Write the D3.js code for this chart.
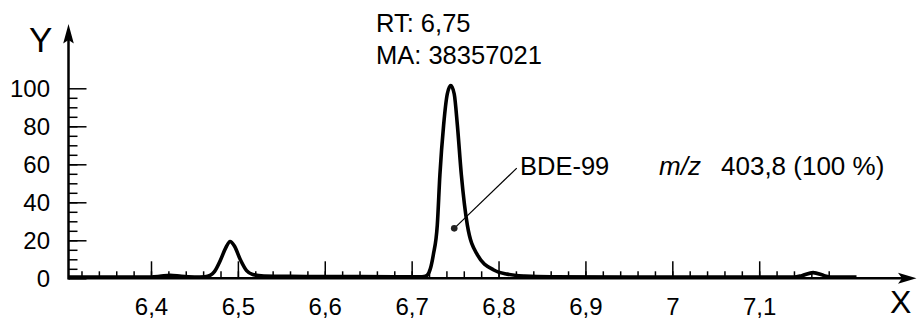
<!DOCTYPE html>
<html>
<head>
<meta charset="utf-8">
<script src="https://cdn.jsdelivr.net/npm/d3@7"></script>
<style>
  body { margin: 0; background: #fff; }
  svg { display: block; font-family: "Liberation Sans", Arial, sans-serif; }
  .tick text { font-size: 24px; fill: #000; }
</style>
</head>
<body>
<div id="chart"></div>
<script>
// retention time (min) and relative intensity (%)
const rtValues = [6.305, 6.35, 6.40, 6.41, 6.422, 6.435, 6.45, 6.462, 6.468, 6.473, 6.48, 6.486,
  6.491, 6.496, 6.503, 6.51, 6.517, 6.53, 6.56, 6.62, 6.68, 6.71, 6.714, 6.718, 6.7215, 6.7249,
  6.7295, 6.7325, 6.7368, 6.741, 6.745, 6.749, 6.7526, 6.7572, 6.7641, 6.7757, 6.7945, 6.81,
  6.83, 6.86, 6.95, 7.05, 7.14, 7.149, 7.162, 7.175, 7.182, 7.212];
const intensityValues = [0.7, 0.7, 0.7, 1.0, 1.6, 1.0, 0.7, 0.8, 1.5, 3.5, 9.6, 16,
  19.4, 17, 9.6, 4.0, 2.0, 1.2, 1.0, 0.9, 0.8, 0.8, 0.9, 1.7, 5.0, 12.3,
  28, 54.4, 80.7, 97, 101.5, 97, 80.7, 54.4, 28, 12.3, 4.4, 2.2,
  1.2, 0.8, 0.7, 0.7, 0.7, 1.4, 3.0, 1.4, 0.7, 0.7];

const xTickValues = [6.4, 6.5, 6.6, 6.7, 6.8, 6.9, 7.0, 7.1];
const yTickValues = [0, 20, 40, 60, 80, 100];

const peakLabel = ['RT: 6,75', 'MA: 38357021'];
const compoundLabel = 'BDE-99';
const ionLabel = ['m/z', '403,8 (100 %)'];
// leader line: point on peak -> label
const leaderRt = [6.749, 6.821];
const leaderInt = [26.3, 58];

const width = 917;
const height = 320;
const origin = { x: 68.5, y: 278.3 };

const svg = d3.select('#chart').append('svg')
  .attr('width', width)
  .attr('height', height);

/* SCALES */
const xScale = d3.scaleLinear().domain([6.4, 7.1]).range([151, 759.2]);
const yScale = d3.scaleLinear().domain([0, 100]).range([origin.y, 88.3]);

const fmt = d => String(d).replace('.', ',');

/* X AXIS */
const xMinor = d3.range(6.32, 7.19, 0.02).map(v => +v.toFixed(2));

svg.append('g')
  .attr('transform', `translate(0, ${origin.y})`)
  .call(d3.axisBottom(xScale).tickValues(xMinor).tickSizeInner(-7).tickSizeOuter(0).tickFormat(''))
  .call(g => g.select('.domain').remove())
  .call(g => g.selectAll('line').attr('stroke', '#000').attr('stroke-width', 1.5));

svg.append('g')
  .attr('transform', `translate(0, ${origin.y})`)
  .call(d3.axisBottom(xScale).tickValues(xTickValues).tickSizeInner(-17).tickSizeOuter(0)
    .tickPadding(20).tickFormat(fmt))
  .call(g => g.select('.domain').remove())
  .call(g => g.selectAll('line').attr('stroke', '#000').attr('stroke-width', 1.5));

/* Y AXIS */
const yMinor = d3.range(5, 100, 5);

svg.append('g')
  .attr('transform', `translate(${origin.x}, 0)`)
  .call(d3.axisLeft(yScale).tickValues(yMinor).tickSizeInner(-9).tickSizeOuter(0).tickFormat(''))
  .call(g => g.select('.domain').remove())
  .call(g => g.selectAll('line').attr('stroke', '#000').attr('stroke-width', 1.5));

svg.append('g')
  .attr('transform', `translate(${origin.x}, 0)`)
  .call(d3.axisLeft(yScale).tickValues(yTickValues).tickSizeInner(-18).tickSizeOuter(0)
    .tickPadding(18.5).tickFormat(fmt))
  .call(g => g.select('.domain').remove())
  .call(g => g.selectAll('line').attr('stroke', '#000').attr('stroke-width', 1.5))
  .call(g => g.selectAll('text').attr('dy', '0.36em'));

// axis lines with arrows
svg.append('line')
  .attr('x1', origin.x).attr('x2', 902)
  .attr('y1', origin.y).attr('y2', origin.y)
  .attr('stroke', '#000').attr('stroke-width', 2.5);
svg.append('line')
  .attr('x1', origin.x).attr('x2', origin.x)
  .attr('y1', origin.y + 1.2).attr('y2', 40)
  .attr('stroke', '#000').attr('stroke-width', 2.5);

svg.append('path')
  .attr('d', `M916.5,${origin.y} L898,${origin.y - 5.5} L902,${origin.y} L898,${origin.y + 5.5} Z`)
  .attr('fill', '#000');
svg.append('path')
  .attr('d', `M${origin.x},24 L${origin.x - 5.3},43.5 L${origin.x},40 L${origin.x + 5.3},43.5 Z`)
  .attr('fill', '#000');

svg.append('text').attr('x', 29).attr('y', 52.3)
  .attr('font-size', 35).text('Y');
svg.append('text').attr('x', 890).attr('y', 312.5)
  .attr('font-size', 32).text('X');

/* TRACE */
const line = d3.line()
  .x((d, i) => xScale(rtValues[i]))
  .y(d => yScale(d))
  .curve(d3.curveMonotoneX);

svg.append('path')
  .datum(intensityValues)
  .attr('d', line)
  .attr('fill', 'none')
  .attr('stroke', '#000')
  .attr('stroke-width', 3.6)
  .attr('stroke-linejoin', 'round')
  .attr('stroke-linecap', 'butt');

/* ANNOTATIONS */
svg.append('line')
  .attr('x1', xScale(leaderRt[0])).attr('y1', yScale(leaderInt[0]))
  .attr('x2', xScale(leaderRt[1])).attr('y2', yScale(leaderInt[1]))
  .attr('stroke', '#000').attr('stroke-width', 1.2);
svg.append('circle')
  .attr('cx', xScale(leaderRt[0])).attr('cy', yScale(leaderInt[0]))
  .attr('r', 3.3).attr('fill', '#222');

svg.append('text').attr('x', 520).attr('y', 175)
  .attr('font-size', 25.5).text(compoundLabel);

svg.selectAll('.peakText')
  .data(peakLabel)
  .enter()
  .append('text')
  .attr('class', 'peakText')
  .attr('x', 376)
  .attr('y', (d, i) => 32 + i * 32)
  .attr('font-size', 25.5)
  .text(d => d);

const ion = svg.append('text').attr('x', 659).attr('y', 175).attr('font-size', 26);
ion.append('tspan').attr('font-style', 'italic').text(ionLabel[0]);
ion.append('tspan').attr('x', 721).text(ionLabel[1]);
</script>
</body>
</html>
